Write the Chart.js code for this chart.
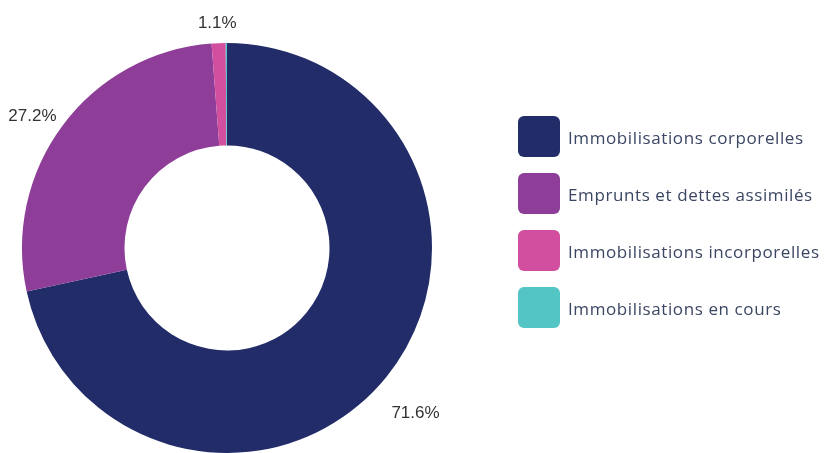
<!DOCTYPE html>
<html>
<head>
<meta charset="utf-8">
<script src="https://cdn.jsdelivr.net/npm/chart.js@4.4.1/dist/chart.umd.min.js"></script>
<style>
    html, body { margin: 0; padding: 0; background: #ffffff; }
    #wrap { position: relative; width: 828px; height: 453px; overflow: hidden; }
    #wrap canvas { position: absolute; left: 0; top: 0; }
    #legend { position: absolute; left: 518px; top: 108px; }
    .row { display: flex; align-items: center; height: 57px; }
    .box { width: 42px; height: 41px; border-radius: 6px; flex: none; }
    .txt { margin-left: 8px; margin-top: 2px; font-family: 'Open Sans', sans-serif; font-size: 17px; letter-spacing: 0.6px; color: #3b4663; white-space: nowrap; }
</style>
</head>
<body>
<div id="wrap">
    <canvas id="donutChart" width="828" height="453"></canvas>
    <div id="legend"></div>
</div>
<script>
// Chart data
const categories = [
    'Immobilisations corporelles',
    'Emprunts et dettes assimilés',
    'Immobilisations incorporelles',
    'Immobilisations en cours'
];
const shares = [71.6, 27.2, 1.1, 0.1];
const sliceColors = ['#212c68', '#8e3e98', '#d14f9e', '#52c5c4'];

// Percent labels outside the ring (small slices are skipped)
const outsideLabels = {
    id: 'outsideLabels',
    afterDatasetsDraw(chart) {
        const ctx = chart.ctx;
        const meta = chart.getDatasetMeta(0);
        ctx.save();
        ctx.font = '17px "Liberation Sans", Arial, sans-serif';
        ctx.fillStyle = '#333333';
        ctx.textAlign = 'center';
        ctx.textBaseline = 'middle';
        meta.data.forEach((arc, i) => {
            const value = shares[i];
            if (value < 0.5) return;
            const p = arc.getProps(['x', 'y', 'startAngle', 'endAngle', 'outerRadius'], true);
            const a = (p.startAngle + p.endAngle) / 2;
            const dx = Math.cos(a), dy = Math.sin(a);
            const text = value.toFixed(1) + '%';
            const hw = ctx.measureText(text).width / 2;
            const hh = 7;
            const t = Math.min(Math.abs(dx) > 0.001 ? hw / Math.abs(dx) : 1e9,
                               Math.abs(dy) > 0.001 ? hh / Math.abs(dy) : 1e9);
            const d = p.outerRadius + 26 + t;
            ctx.fillText(text, p.x + dx * d, p.y + dy * d + 13);
        });
        ctx.restore();
    }
};

const ctx = document.getElementById('donutChart').getContext('2d');
new Chart(ctx, {
    type: 'doughnut',
    data: {
        labels: categories,
        datasets: [{
            data: shares,
            backgroundColor: sliceColors,
            borderWidth: 0
        }]
    },
    options: {
        responsive: false,
        animation: false,
        cutout: '50%',
        layout: {
            padding: { left: 22, right: 396, top: 43, bottom: 0 }
        },
        plugins: {
            legend: { display: false },
            tooltip: { enabled: false }
        }
    },
    plugins: [outsideLabels]
});

// HTML legend built from the same arrays
const legend = document.getElementById('legend');
categories.forEach((name, i) => {
    const row = document.createElement('div');
    row.className = 'row';
    row.innerHTML = '<div class="box" style="background:' + sliceColors[i] + '"></div>' +
        '<div class="txt">' + name + '</div>';
    legend.appendChild(row);
});
</script>
</body>
</html>
